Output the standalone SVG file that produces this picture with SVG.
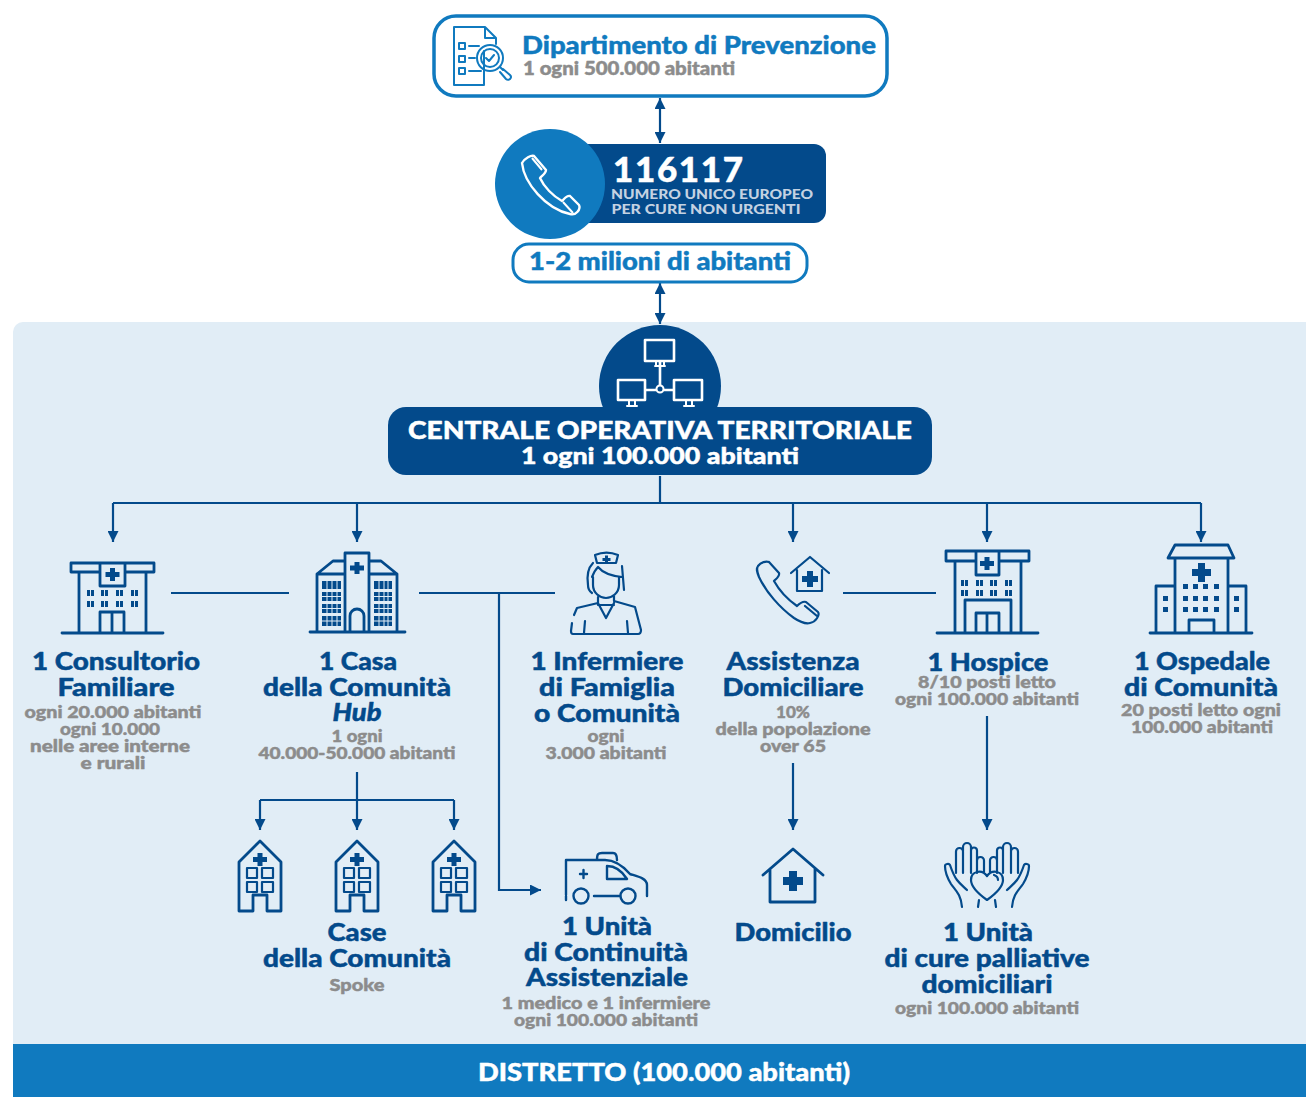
<svg xmlns="http://www.w3.org/2000/svg" width="1306" height="1097" viewBox="0 0 1306 1097">
<style>
text{font-family:"Lato","Open Sans","Liberation Sans",sans-serif;font-weight:900;text-anchor:middle;stroke-width:.45;stroke-linejoin:round}
.h{font-size:24px;fill:#034a8b;stroke:#034a8b}
.g{font-size:17px;fill:#8c8c8c;stroke:#8c8c8c}
.wt{fill:#fff;stroke:#fff}
.bt{fill:#107abf;stroke:#107abf}
.i{fill:none;stroke:#034a8b;stroke-width:2.2;stroke-linecap:round;stroke-linejoin:round}
.t{fill:none;stroke:#034a8b;stroke-width:2.800;stroke-linecap:round;stroke-linejoin:round}
.w{fill:none;stroke:#fff;stroke-width:2.6;stroke-linecap:round;stroke-linejoin:round}
.b{fill:none;stroke:#107abf;stroke-width:2;stroke-linecap:round;stroke-linejoin:round}
.f{fill:#034a8b}
.c{fill:none;stroke:#034a8b;stroke-width:2.2}
</style>
<defs>
<marker id="a" markerUnits="userSpaceOnUse" markerWidth="12" markerHeight="11" refX="11" refY="5.500" orient="auto-start-reverse"><path d="M0 0L11 5.500L0 11Z" fill="#034a8b"/></marker>
<g id="spoke"><path class="t" d="M-21 -27L0 -48L21 -27V22H7V6H-7V22H-21Z"/><path class="f" d="M-2.500 -36h5v4h4.500v5h-4.500v4h-5v-4h-4.500v-5h4.500z"/><path class="t" style="stroke-width:2.200" d="M-13 -21h10v10h-10zM2 -21h11v10h-11zM-13 -7h10v10h-10zM2 -7h11v10h-11z"/></g>
<g id="hand"><path class="i" d="M956 873V851.500a3.500 3.500 0 0 1 7 0V873M963 851V847a4 4 0 0 1 8 0V873M971 850.500a3 3 0 0 1 6 0V873M977 860.500a3.500 3.500 0 0 1 7 0V872M945 866c0-2 4-3 5-1 2 6 4 11 7 15 3 4 7 7 10 10M945 866c0 8 3 13 6 18 4 6 10 10 11 23M979 900l-1 7"/></g>
</defs>
<rect width="1306" height="1097" fill="#fff"/>
<path d="M13 1097V332a10 10 0 0 1 10-10H1306V1097Z" fill="#e1edf6"/>
<rect x="13" y="1044" width="1293" height="53" fill="#107abf"/>
<g id="connectors" class="c">
<path marker-start="url(#a)" marker-end="url(#a)" d="M660 98V143"/>
<path marker-start="url(#a)" marker-end="url(#a)" d="M660 283V324"/>
<path d="M660 476V503M113 503H1201"/>
<path marker-end="url(#a)" d="M113 503V542"/>
<path marker-end="url(#a)" d="M357 503V542"/>
<path marker-end="url(#a)" d="M793 503V542"/>
<path marker-end="url(#a)" d="M987 503V542"/>
<path marker-end="url(#a)" d="M1201 503V542"/>
<path d="M171 593H289M419 593H555M843 593H936"/>
<path marker-end="url(#a)" d="M499 593V890H541"/>
<path d="M357 772V800M260 800H454"/>
<path marker-end="url(#a)" d="M260 800V830"/>
<path marker-end="url(#a)" d="M357 800V830"/>
<path marker-end="url(#a)" d="M454 800V830"/>
<path marker-end="url(#a)" d="M793 763V830"/>
<path marker-end="url(#a)" d="M987 716V830"/>
</g>
<g id="dipartimento">
<rect x="434" y="16" width="453" height="80" rx="22" fill="#fff" stroke="#107abf" stroke-width="3.500"/>
<path class="b" d="M484 51V85H454V27H485L496 38V44M485 27V38H496"/>
<path class="b" d="M459 43h6v6h-6zM459 56h6v6h-6zM459 68h6v6h-6zM469 46h10M469 58h6M469 71h12"/>
<circle class="b" cx="490" cy="58" r="13" fill="#fff"/><circle class="b" cx="490" cy="58" r="9"/>
<path class="b" d="M486 58l3 3 5-6M500 67l3 3M503 69l7 6a2.500 2.500 0 0 1-4 4l-6-7"/>
<text x="699" y="54" class="bt" style="font-size:25px" textLength="354" lengthAdjust="spacingAndGlyphs">Dipartimento di Prevenzione</text>
<text x="629" y="75" class="g" style="font-size:18px" textLength="212" lengthAdjust="spacingAndGlyphs">1 ogni 500.000 abitanti</text>
</g>
<g id="numero">
<rect x="560" y="144" width="266" height="79" rx="12" fill="#034a8b"/>
<circle cx="550" cy="184" r="55" fill="#107abf"/>
<path d="M522 163c3-5 9-8 12-7l12 14c0 3-3 5-6 8 4 9 13 18 22 23 3-3 5-6 8-5l9 9c2 4-3 11-9 9-24-5-46-31-48-51z" fill="none" stroke="#fff" stroke-width="2.400" stroke-linejoin="round"/>
<path d="M532 158l10 12M563 202l10 11" fill="none" stroke="#fff" stroke-width="2"/>
<text x="678" y="182" class="wt" style="font-size:35px" textLength="130">116117</text>
<text x="712" y="199" style="font-size:14px;fill:#c4d2e2" textLength="202" lengthAdjust="spacingAndGlyphs">NUMERO UNICO EUROPEO</text>
<text x="706" y="214" style="font-size:14px;fill:#c4d2e2" textLength="189" lengthAdjust="spacingAndGlyphs">PER CURE NON URGENTI</text>
</g>
<g id="milioni">
<rect x="513" y="244" width="294" height="38" rx="16" fill="#fff" stroke="#107abf" stroke-width="3"/>
<text x="660" y="270" class="bt" style="font-size:24px" textLength="262" lengthAdjust="spacingAndGlyphs">1-2 milioni di abitanti</text>
</g>
<g id="centrale">
<circle cx="660" cy="386" r="61" fill="#034a8b"/>
<rect x="388" y="407" width="544" height="68" rx="18" fill="#034a8b"/>
<path class="w" d="M645 340h29v21h-29zM618 380h27v20h-27zM674 380h28v20h-28zM660 361v25M645 390h11M664 390h10"/>
<circle cx="660" cy="389" r="3.500" fill="#034a8b" stroke="#fff" stroke-width="2"/>
<path class="w" d="M655 366h10M656 362v4M664 362v4M627 406h10M684 406h10M629 400v5M635 400v5M686 400v5M692 400v5" style="stroke-width:2"/>
<text x="660" y="439" class="wt" style="font-size:25px" textLength="504" lengthAdjust="spacingAndGlyphs">CENTRALE OPERATIVA TERRITORIALE</text>
<text x="660" y="464" class="wt" style="font-size:23px" textLength="278" lengthAdjust="spacingAndGlyphs">1 ogni 100.000 abitanti</text>
</g>
<g id="consultorio">
<path class="t" d="M62 633H163M79 633V572M146 633V572M100 563H71V572H100M125 563H154V572H125M100 563H125V586H100ZM100 633V612H124V633M112 612V633"/>
<path class="f" d="M110 568h5v4h4.500v5h-4.500v4h-5v-4h-4.500v-5h4.500z"/>
<path class="f" d="M87 590h7v6h-7zM101 590h7v6h-7zM116 590h7v6h-7zM131 590h7v6h-7zM87 601h7v6h-7zM101 601h7v6h-7zM116 601h7v6h-7zM131 601h7v6h-7z"/>
<path stroke="#e1edf6" d="M90.500 590v17M104.500 590v17M119.500 590v17M134.500 590v17"/>
<text x="116" y="670" class="h" textLength="168" lengthAdjust="spacingAndGlyphs">1 Consultorio</text>
<text x="116" y="696" class="h" textLength="117" lengthAdjust="spacingAndGlyphs">Familiare</text>
<text x="113" y="718" class="g" textLength="177" lengthAdjust="spacingAndGlyphs">ogni 20.000 abitanti</text>
<text x="110" y="735" class="g" textLength="100" lengthAdjust="spacingAndGlyphs">ogni 10.000</text>
<text x="110" y="752" class="g" textLength="160" lengthAdjust="spacingAndGlyphs">nelle aree interne</text>
<text x="113" y="769" class="g" textLength="65" lengthAdjust="spacingAndGlyphs">e rurali</text>
</g>
<g id="casa-hub">
<path class="t" d="M310 632H405M317 632V574H345M397 632V574H369M345 632V553H369V632M317 574L333 561H345M397 574L381 561H369M350 632V616a7 7 0 0 1 14 0V632"/>
<path class="f" d="M354.500 562h5v3.500h4.500v5h-4.500v3.500h-5v-3.500h-4.500v-5h4.500z"/>
<path class="f" d="M322 581h19v8h-19zM322 592h19v9h-19zM322 604h19v9h-19zM322 616h19v10h-19zM374 581h18v8h-18zM374 592h18v9h-18zM374 604h18v9h-18zM374 616h18v10h-18z"/>
<path stroke="#e1edf6" d="M327 581v45M332 581v45M337 581v45M379 581v45M384 581v45M388 581v45M322 621h19M374 621h18M322 596.500h19M374 596.500h18M322 608.500h19M374 608.500h18" fill="none"/>
<text x="358" y="670" class="h" textLength="78" lengthAdjust="spacingAndGlyphs">1 Casa</text>
<text x="357" y="696" class="h" textLength="188" lengthAdjust="spacingAndGlyphs">della Comunità</text>
<text x="357" y="721" class="h" font-style="italic" textLength="49" lengthAdjust="spacingAndGlyphs">Hub</text>
<text x="357" y="742" class="g" textLength="51" lengthAdjust="spacingAndGlyphs">1 ogni</text>
<text x="357" y="759" class="g" textLength="197" lengthAdjust="spacingAndGlyphs">40.000-50.000 abitanti</text>
</g>
<g id="infermiere">
<path class="i" d="M595 555c7-3 16-3 23 0l-2 8h-19zM593 563c-6 6-6 15-5 22 0 3 1 6 4 8M622 566l2 24M592 577c2-5 4-8 6-10 5 6 14 9 24 10M593 577v8c0 8 7 13 13 13s13-5 13-13v-8M598 597v6l-21 5-3 7M572 623l-1 8c0 2 1 3 2 3H638c2 0 3-2 3-4l-6-23-21-6v-6M598 603l8 15 8-15M598 605h16M585 621l-1 12M627 621l1 12"/>
<path class="f" d="M605 555.500h3v2.500h2.500v3h-2.500v2h-3v-2h-2.500v-3h2.500z"/>
<text x="607" y="670" class="h" textLength="153" lengthAdjust="spacingAndGlyphs">1 Infermiere</text>
<text x="607" y="696" class="h" textLength="136" lengthAdjust="spacingAndGlyphs">di Famiglia</text>
<text x="607" y="722" class="h" textLength="146" lengthAdjust="spacingAndGlyphs">o Comunità</text>
<text x="606" y="742" class="g" textLength="37" lengthAdjust="spacingAndGlyphs">ogni</text>
<text x="606" y="759" class="g" textLength="121" lengthAdjust="spacingAndGlyphs">3.000 abitanti</text>
</g>
<g id="assistenza">
<path class="i" d="M758 566c3-4 8-5 11-4l10 11c1 3-2 5-5 8 5 9 13 18 23 25 3-3 6-5 9-4l12 10c2 3-2 10-8 11-4 1-10-1-16-5-14-10-28-26-35-41-2-5-3-8-1-11zM769 562l10 11M805 606l12 10"/>
<path class="i" d="M791 573l19-16 19 16M797 570v21h25v-21"/>
<path class="f" d="M807 571h6v5h5v6h-5v5h-6v-5h-5v-6h5z"/>
<text x="793" y="670" class="h" textLength="133" lengthAdjust="spacingAndGlyphs">Assistenza</text>
<text x="793" y="696" class="h" textLength="141" lengthAdjust="spacingAndGlyphs">Domiciliare</text>
<text x="793" y="718" class="g" textLength="34" lengthAdjust="spacingAndGlyphs">10%</text>
<text x="793" y="735" class="g" textLength="155" lengthAdjust="spacingAndGlyphs">della popolazione</text>
<text x="793" y="752" class="g" textLength="66" lengthAdjust="spacingAndGlyphs">over 65</text>
</g>
<g id="hospice">
<path class="t" d="M937 633H1038M955 633V561M1021 633V561M976 551H946V561H976M999 551H1029V561H999M976 551H999V575H976ZM965 633V600H1011V633M976 633V613H999V633M987 613V633"/>
<path class="f" d="M984.500 557h5v4h4.500v5h-4.500v4h-5v-4h-4.500v-5h4.500z"/>
<path class="f" d="M961 580h7v6h-7zM976 580h7v6h-7zM990 580h7v6h-7zM1005 580h7v6h-7zM961 590h7v6h-7zM976 590h7v6h-7zM990 590h7v6h-7zM1005 590h7v6h-7z"/>
<path stroke="#e1edf6" d="M964.500 580v16M979.500 580v16M993.500 580v16M1008.500 580v16"/>
<text x="988" y="671" class="h" textLength="121" lengthAdjust="spacingAndGlyphs">1 Hospice</text>
<text x="987" y="688" class="g" textLength="138" lengthAdjust="spacingAndGlyphs">8/10 posti letto</text>
<text x="987" y="705" class="g" textLength="184" lengthAdjust="spacingAndGlyphs">ogni 100.000 abitanti</text>
</g>
<g id="ospedale">
<path class="t" d="M1150 633H1252M1175 633V559M1228 633V559M1168 558H1234L1228 545H1175ZM1175 586H1156V633M1228 586H1246V633M1189 633V620H1214V633"/>
<path class="f" d="M1198 563h7v6h6v7h-6v6h-7v-6h-6v-7h6z"/>
<path class="f" d="M1183 584h5v5h-5zM1193 584h5v5h-5zM1203 584h5v5h-5zM1214 584h5v5h-5zM1183 596h5v5h-5zM1193 596h5v5h-5zM1203 596h5v5h-5zM1214 596h5v5h-5zM1183 607h5v5h-5zM1193 607h5v5h-5zM1203 607h5v5h-5zM1214 607h5v5h-5zM1163 596h5v5h-5zM1163 607h5v5h-5zM1234 596h5v5h-5zM1234 607h5v5h-5z"/>
<text x="1202" y="670" class="h" textLength="136" lengthAdjust="spacingAndGlyphs">1 Ospedale</text>
<text x="1201" y="696" class="h" textLength="154" lengthAdjust="spacingAndGlyphs">di Comunità</text>
<text x="1201" y="716" class="g" textLength="160" lengthAdjust="spacingAndGlyphs">20 posti letto ogni</text>
<text x="1202" y="733" class="g" textLength="142" lengthAdjust="spacingAndGlyphs">100.000 abitanti</text>
</g>
<g id="case-spoke">
<use href="#spoke" x="260" y="889"/><use href="#spoke" x="357" y="889"/><use href="#spoke" x="454" y="889"/>
<text x="357" y="941" class="h" textLength="59" lengthAdjust="spacingAndGlyphs">Case</text>
<text x="357" y="967" class="h" textLength="188" lengthAdjust="spacingAndGlyphs">della Comunità</text>
<text x="357" y="991" class="g" textLength="55" lengthAdjust="spacingAndGlyphs">Spoke</text>
</g>
<g id="unita-continuita">
<path class="i" style="stroke-width:2.400" d="M566 895V860H605c10 0 18 6 25 14 6 2 17 4 17 11V896M566 900V896M594 896H620M597 860c0-6 1-7 5-7h11c3 0 4 2 4 7M607 866c9 0 15 5 20 13H607ZM580 874h7M583.500 870v8"/>
<circle class="i" style="stroke-width:2.400" cx="581" cy="896" r="7.500"/><circle class="i" style="stroke-width:2.400" cx="628" cy="896" r="7.500"/>
<text x="607" y="935" class="h" textLength="90" lengthAdjust="spacingAndGlyphs">1 Unità</text>
<text x="606" y="961" class="h" textLength="164" lengthAdjust="spacingAndGlyphs">di Continuità</text>
<text x="607" y="986" class="h" textLength="162" lengthAdjust="spacingAndGlyphs">Assistenziale</text>
<text x="606" y="1009" class="g" textLength="209" lengthAdjust="spacingAndGlyphs">1 medico e 1 infermiere</text>
<text x="606" y="1026" class="g" textLength="184" lengthAdjust="spacingAndGlyphs">ogni 100.000 abitanti</text>
</g>
<g id="domicilio">
<path class="t" d="M763 875L793 849 823 875M770 869V902H815V869"/>
<path class="f" d="M789 871h8v6h6v8h-6v6h-8v-6h-6v-8h6z"/>
<text x="793" y="941" class="h" textLength="117" lengthAdjust="spacingAndGlyphs">Domicilio</text>
</g>
<g id="cure-palliative">
<use href="#hand"/>
<use href="#hand" transform="translate(1974 0) scale(-1 1)"/>
<path class="i" d="M987 900c-7-5-16-12-16-20 0-9 11-11 16-4 5-7 16-5 16 4 0 8-9 15-16 20zM994 875c3 1 4 2 4 5"/>
<text x="988" y="941" class="h" textLength="90" lengthAdjust="spacingAndGlyphs">1 Unità</text>
<text x="987" y="967" class="h" textLength="205" lengthAdjust="spacingAndGlyphs">di cure palliative</text>
<text x="987" y="993" class="h" textLength="131" lengthAdjust="spacingAndGlyphs">domiciliari</text>
<text x="987" y="1014" class="g" textLength="184" lengthAdjust="spacingAndGlyphs">ogni 100.000 abitanti</text>
</g>
<g id="distretto">
<text x="664" y="1081" class="wt" style="font-size:25px" textLength="372" lengthAdjust="spacingAndGlyphs">DISTRETTO (100.000 abitanti)</text>
</g>
</svg>
